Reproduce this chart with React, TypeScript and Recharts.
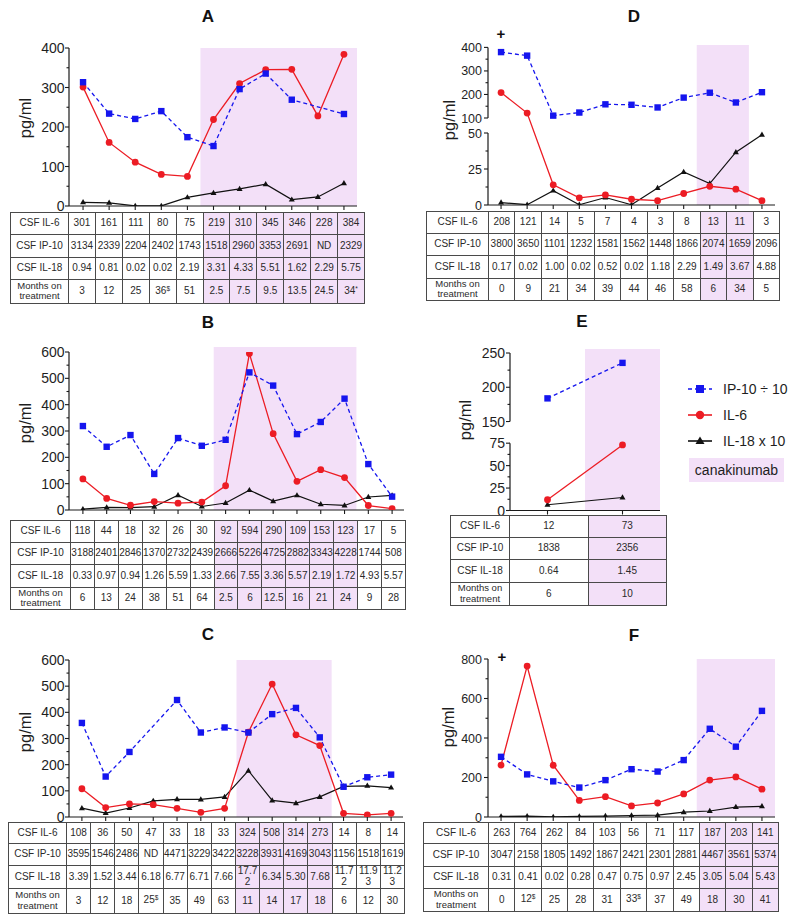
import React from 'react';
import { LineChart, Line, XAxis, YAxis, ReferenceArea, ReferenceLine } from 'recharts';

const FONT = '"Liberation Sans", Arial, Helvetica, sans-serif';
const PINK = '#f3e0f8';
const BLUE = '#1515ee';
const RED = '#ec1c24';
const BLACK = '#111';
const AXIS = '#1a1a1a';

// ---- A
const aIL6 = [301, 161, 111, 80, 75, 219, 310, 345, 346, 228, 384];
const aIP10 = [3134, 2339, 2204, 2402, 1743, 1518, 2960, 3353, 2691, null, 2329];
const aIL18 = [0.94, 0.81, 0.02, 0.02, 2.19, 3.31, 4.33, 5.51, 1.62, 2.29, 5.75];
const aMonths = ['3', '12', '25', '36$', '51', '2.5', '7.5', '9.5', '13.5', '24.5', '34*'];

// ---- B
const bIL6 = [118, 44, 18, 32, 26, 30, 92, 594, 290, 109, 153, 123, 17, 5];
const bIP10 = [3188, 2401, 2846, 1370, 2732, 2439, 2666, 5226, 4725, 2882, 3343, 4228, 1744, 508];
const bIL18 = [0.33, 0.97, 0.94, 1.26, 5.59, 1.33, 2.66, 7.55, 3.36, 5.57, 2.19, 1.72, 4.93, 5.57];
const bMonths = ['6', '13', '24', '38', '51', '64', '2.5', '6', '12.5', '16', '21', '24', '9', '28'];

// ---- C
const cIL6 = [108, 36, 50, 47, 33, 18, 33, 324, 508, 314, 273, 14, 8, 14];
const cIP10 = [3595, 1546, 2486, null, 4471, 3229, 3422, 3228, 3931, 4169, 3043, 1156, 1518, 1619];
const cIL18 = [3.39, 1.52, 3.44, 6.18, 6.77, 6.71, 7.66, 17.72, 6.34, 5.3, 7.68, 11.72, 11.93, 11.23];
const cMonths = ['3', '12', '18', '25$', '35', '49', '63', '11', '14', '17', '18', '6', '12', '30'];

// ---- D
const dIL6 = [208, 121, 14, 5, 7, 4, 3, 8, 13, 11, 3];
const dIP10 = [3800, 3650, 1101, 1232, 1581, 1562, 1448, 1866, 2074, 1659, 2096];
const dIL18 = [0.17, 0.02, 1.0, 0.02, 0.52, 0.02, 1.18, 2.29, 1.49, 3.67, 4.88];
const dMonths = ['0', '9', '21', '34', '39', '44', '46', '58', '6', '34', '5'];

// ---- E
const eIL6 = [12, 73];
const eIP10 = [1838, 2356];
const eIL18 = [0.64, 1.45];
const eMonths = ['6', '10'];

// ---- F
const fIL6 = [263, 764, 262, 84, 103, 56, 71, 117, 187, 203, 141];
const fIP10 = [3047, 2158, 1805, 1492, 1867, 2421, 2301, 2881, 4467, 3561, 5374];
const fIL18 = [0.31, 0.41, 0.02, 0.28, 0.47, 0.75, 0.97, 2.45, 3.05, 5.04, 5.43];
const fMonths = ['0', '12$', '25', '28', '31', '33$', '37', '49', '18', '30', '41'];

const legendNames = ['IP-10 ÷ 10', 'IL-6', 'IL-18 x 10'];
const rowLabels = ['CSF IL-6', 'CSF IP-10', 'CSF IL-18'];

const ident = (v: number) => v;
// broken y axes (D: 0-50 / 100-400, E: 0-75 / 150-250)
const brokenD = (v: number) => (v <= 50 ? (v * 72) / 50 : 87 + ((v - 100) * 70.6) / 300);
const brokenE = (v: number) => (v <= 75 ? (v * 67.2) / 75 : 88.8 + ((v - 150) * 68.4) / 100);

const panels: any[] = [
  {
    key: 'A', il6: aIL6, ip10: aIP10, il18: aIL18, months: aMonths, shade: [5, 10],
    major: [0, 100, 200, 300, 400], minor: [50, 150, 250, 350], yMax: 400, shadeTop: 400, tf: ident,
    box: { l: 69, r: 357, t: 48, b: 206, padL: 1 }, tickFs: 14, gap: 4.5,
    table: { left: 10, top: 212, labelR: 68, right: 364, rows: [22, 22.5, 22.5, 23.5] },
    title: [208, 17], ylab: [25, 118],
  },
  {
    key: 'B', il6: bIL6, ip10: bIP10, il18: bIL18, months: bMonths, shade: [6, 11],
    major: [0, 100, 200, 300, 400, 500, 600], minor: [50, 150, 250, 350, 450, 550], yMax: 600, shadeTop: 619, tf: ident,
    box: { l: 69, r: 404, t: 352, b: 510, padL: 2 }, tickFs: 14, gap: 4.5,
    table: { left: 10, top: 520, labelR: 70, right: 405, rows: [22, 22, 22.5, 20.5] },
    title: [208, 323], ylab: [25, 423],
  },
  {
    key: 'C', il6: cIL6, ip10: cIP10, il18: cIL18, months: cMonths, shade: [7, 10],
    major: [0, 100, 200, 300, 400, 500, 600], minor: [50, 150, 250, 350, 450, 550], yMax: 600, shadeTop: 600, tf: ident,
    box: { l: 69, r: 403, t: 660, b: 817, padL: 1 }, tickFs: 14, gap: 4.5,
    table: { left: 8, top: 822, labelR: 66, right: 404, rows: [20.5, 22.3, 23, 25] },
    title: [208, 635], ylab: [25, 732],
  },
  {
    key: 'D', il6: dIL6, ip10: dIP10, il18: dIL18, months: dMonths, shade: [8, 9],
    major: [0, 25, 50, 100, 200, 300, 400], minor: [12.5, 37.5, 150, 250, 350], yMax: 160, shadeTop: 160, tf: brokenD,
    segs: [[0, 50], [100, 400]],
    box: { l: 488, r: 775, t: 45, b: 205, padL: 0 }, tickFs: 12.5, gap: 6,
    table: { left: 426, top: 211, labelR: 488, right: 779, rows: [21.7, 22.3, 22.7, 21.3] },
    title: [634, 17], ylab: [449, 120], plus: [501, 33],
  },
  {
    key: 'E', il6: eIL6, ip10: eIP10, il18: eIL18, months: eMonths, shade: [1, 1],
    major: [0, 25, 50, 75, 150, 200, 250], minor: [12.5, 37.5, 62.5, 175, 225], yMax: 161.2, shadeTop: 161.2, tf: brokenE,
    segs: [[0, 75], [150, 250]],
    box: { l: 510, r: 660, t: 349, b: 510.5, padL: 0 }, tickFs: 14, gap: 5,
    table: { left: 450, top: 515, labelR: 509, right: 666, rows: [22.3, 21.7, 22.7, 23.3] },
    title: [582, 322], ylab: [465, 420],
  },
  {
    key: 'F', il6: fIL6, ip10: fIP10, il18: fIL18, months: fMonths, shade: [8, 10],
    major: [0, 200, 400, 600, 800], minor: [100, 300, 500, 700], yMax: 800, shadeTop: 800, tf: ident,
    box: { l: 488, r: 775, t: 659, b: 817, padL: 0 }, tickFs: 12.5, gap: 6,
    table: { left: 423, top: 822, labelR: 488, right: 778, rows: [21.3, 22.4, 22.6, 22.4] },
    title: [634, 636], ylab: [448, 727], plus: [502, 656],
  },
];

const SquareDot = (props: any) => {
  const { cx, cy, index } = props;
  if (cx == null || cy == null || props.value == null) return <g key={'s' + index} />;
  return <rect key={'s' + index} x={cx - 3.2} y={cy - 3.2} width={6.4} height={6.4} fill={BLUE} />;
};
const CircleDot = (props: any) => {
  const { cx, cy, index } = props;
  if (cx == null || cy == null) return <g key={'c' + index} />;
  return <circle key={'c' + index} cx={cx} cy={cy} r={3.4} fill={RED} />;
};
const TriDot = (props: any) => {
  const { cx, cy, index } = props;
  if (cx == null || cy == null) return <g key={'t' + index} />;
  return <path key={'t' + index} d={`M${cx},${cy - 3.2}L${cx + 3},${cy + 2}L${cx - 3},${cy + 2}Z`} fill={BLACK} />;
};

function fmtMonth(m: string) {
  const mt = /^([\d.]+)([$*])$/.exec(m);
  if (!mt) return m;
  return (
    <>
      {mt[1]}
      <span style={{ fontSize: 6.5, position: 'relative', top: -3 }}>{mt[2]}</span>
    </>
  );
}

function PanelChart({ p }: { p: any }) {
  const YW = 50, MT = 12, MR = 10, XH = 8;
  const n = p.il6.length;
  const tf = p.tf;
  const data = p.il6.map((v: number, i: number) => ({
    i,
    ip: p.ip10[i] == null ? null : tf(p.ip10[i] / 10),
    il6: tf(v),
    il18: tf(p.il18[i] * 10),
  }));
  const tickVals = [...p.major, ...p.minor].map(tf);
  const tickLabels = [...p.major.map(String), ...p.minor.map(() => '')];
  const renderYTick = (props: any) => {
    const { x, y, payload } = props;
    const k = tickVals.findIndex((v) => Math.abs(v - payload.value) < 1e-6);
    const lab = k >= 0 ? tickLabels[k] : '';
    const len = lab ? 4 : 2.5;
    return (
      <g>
        <line x1={x - len} y1={y} x2={x} y2={y} stroke={AXIS} strokeWidth={1.1} />
        {lab && (
          <text x={x - p.gap} y={y} dy="0.36em" textAnchor="end" fontSize={p.tickFs} fontFamily={FONT} fill="#1e1e1e">
            {lab}
          </text>
        )}
      </g>
    );
  };
  const w = YW + (p.box.r - p.box.l) + MR;
  const h = MT + (p.box.b - p.box.t) + XH;
  return (
    <div style={{ position: 'absolute', left: p.box.l - YW, top: p.box.t - MT }}>
      <LineChart width={w} height={h} data={data} margin={{ top: MT, right: MR, bottom: 0, left: 0 }}>
        <XAxis
          type="number"
          dataKey="i"
          domain={[-0.5, n - 0.5]}
          ticks={data.map((d: any) => d.i)}
          interval={0}
          height={XH}
          tickSize={4}
          tickLine={{ stroke: AXIS, strokeWidth: 1.1 }}
          axisLine={{ stroke: AXIS, strokeWidth: 1.2 }}
          tick={() => <g />}
          padding={{ left: p.box.padL, right: 0 }}
          allowDataOverflow
        />
        <YAxis
          type="number"
          domain={[0, p.yMax]}
          ticks={tickVals}
          interval={0}
          width={YW}
          tickSize={0}
          tickMargin={0}
          tickLine={false}
          axisLine={p.segs ? false : { stroke: AXIS, strokeWidth: 1.2 }}
          tick={renderYTick}
          allowDataOverflow
        />
        <ReferenceArea
          x1={p.shade[0] - 0.5}
          x2={p.shade[1] + 0.5}
          y1={0}
          y2={p.shadeTop}
          fill={PINK}
          fillOpacity={1}
          stroke="none"
          ifOverflow="visible"
        />
        {p.segs &&
          p.segs.map((s: number[], k: number) => (
            <ReferenceLine
              key={k}
              segment={[{ x: -0.5, y: tf(s[0]) }, { x: -0.5, y: tf(s[1]) }]}
              stroke={AXIS}
              strokeWidth={1.2}
              ifOverflow="visible"
            />
          ))}
        <Line dataKey="il18" stroke={BLACK} strokeWidth={1.2} dot={TriDot} activeDot={false} isAnimationActive={false} />
        <Line dataKey="il6" stroke={RED} strokeWidth={1.3} dot={CircleDot} activeDot={false} isAnimationActive={false} />
        <Line
          dataKey="ip"
          stroke={BLUE}
          strokeWidth={1.3}
          strokeDasharray="4 3"
          dot={SquareDot}
          activeDot={false}
          connectNulls
          isAnimationActive={false}
        />
      </LineChart>
    </div>
  );
}

function DataTable({ p }: { p: any }) {
  const t = p.table;
  const n = p.il6.length;
  const colW = (t.right - t.labelR) / n;
  const rows = [
    p.il6.map((v: number) => String(v)),
    p.ip10.map((v: number | null) => (v == null ? 'ND' : String(v))),
    p.il18.map((v: number) => v.toFixed(2)),
    p.months.map((m: string) => fmtMonth(m)),
  ];
  const cell: React.CSSProperties = {
    border: '1px solid #4a4a4a',
    padding: 0,
    textAlign: 'center',
    verticalAlign: 'middle',
    fontSize: 10,
    lineHeight: '10.5px',
    wordBreak: 'break-all',
  };
  return (
    <table
      style={{
        position: 'absolute',
        left: t.left,
        top: t.top,
        width: t.right - t.left,
        borderCollapse: 'collapse',
        tableLayout: 'fixed',
        fontFamily: FONT,
        color: '#2a2a2a',
      }}
    >
      <colgroup>
        <col style={{ width: t.labelR - t.left }} />
        {Array.from({ length: n }, (_, i) => (
          <col key={i} style={{ width: colW }} />
        ))}
      </colgroup>
      <tbody>
        {rows.map((cells: any[], ri: number) => (
          <tr key={ri} style={{ height: t.rows[ri] }}>
            <td style={{ ...cell, wordBreak: 'normal', whiteSpace: 'nowrap', fontSize: ri === 3 ? 9.5 : 10 }}>
              {ri < 3 ? (
                rowLabels[ri]
              ) : (
                <>
                  Months on
                  <br />
                  treatment
                </>
              )}
            </td>
            {cells.map((c, ci) => (
              <td
                key={ci}
                style={{ ...cell, background: ci >= p.shade[0] && ci <= p.shade[1] ? PINK : '#fff' }}
              >
                {c}
              </td>
            ))}
          </tr>
        ))}
      </tbody>
    </table>
  );
}

function Panel({ p }: { p: any }) {
  const center: React.CSSProperties = { position: 'absolute', transform: 'translate(-50%, -50%)', whiteSpace: 'nowrap' };
  return (
    <>
      <div style={{ ...center, left: p.title[0], top: p.title[1], fontWeight: 'bold', fontSize: 17, color: '#111' }}>
        {p.key}
      </div>
      {p.plus && (
        <div style={{ ...center, left: p.plus[0], top: p.plus[1], fontWeight: 'bold', fontSize: 15, color: '#111' }}>+</div>
      )}
      <div
        style={{
          ...center,
          left: p.ylab[0],
          top: p.ylab[1],
          transform: 'translate(-50%, -50%) rotate(-90deg)',
          fontSize: 16.5,
          color: '#1e1e1e',
        }}
      >
        pg/ml
      </div>
      <PanelChart p={p} />
      <DataTable p={p} />
    </>
  );
}

function LegendIcon({ k }: { k: number }) {
  return (
    <svg width={24} height={14} style={{ display: 'block' }}>
      {k === 0 && (
        <>
          <line x1={0} y1={7} x2={24} y2={7} stroke={BLUE} strokeWidth={1.5} strokeDasharray="4 3" />
          <rect x={8} y={3} width={8} height={8} fill={BLUE} />
        </>
      )}
      {k === 1 && (
        <>
          <line x1={0} y1={7} x2={24} y2={7} stroke={RED} strokeWidth={1.6} />
          <circle cx={12} cy={7} r={4.2} fill={RED} />
        </>
      )}
      {k === 2 && (
        <>
          <line x1={0} y1={7} x2={24} y2={7} stroke={BLACK} strokeWidth={1.6} />
          <path d="M12,2.5L16.5,10L7.5,10Z" fill={BLACK} />
        </>
      )}
    </svg>
  );
}

function LegendBox() {
  const ys = [389, 414.5, 441];
  return (
    <>
      {legendNames.map((name, k) => (
        <div
          key={name}
          style={{
            position: 'absolute',
            left: 688,
            top: ys[k] - 8,
            height: 16,
            display: 'flex',
            alignItems: 'center',
            fontFamily: FONT,
            fontSize: 14,
            color: '#1e1e1e',
            whiteSpace: 'nowrap',
          }}
        >
          <LegendIcon k={k} />
          <span style={{ marginLeft: 11 }}>{name}</span>
        </div>
      ))}
      <div
        style={{
          position: 'absolute',
          left: 689,
          top: 458,
          width: 95,
          height: 24,
          background: PINK,
          display: 'flex',
          alignItems: 'center',
          justifyContent: 'center',
          fontFamily: FONT,
          fontSize: 14,
          color: '#1e1e1e',
        }}
      >
        canakinumab
      </div>
    </>
  );
}

export default function App() {
  return (
    <div
      style={{
        position: 'absolute',
        left: 0,
        top: 0,
        width: 800,
        height: 923,
        background: '#fff',
        fontFamily: FONT,
        overflow: 'hidden',
      }}
    >
      {panels.map((p) => (
        <Panel key={p.key} p={p} />
      ))}
      <LegendBox />
    </div>
  );
}
